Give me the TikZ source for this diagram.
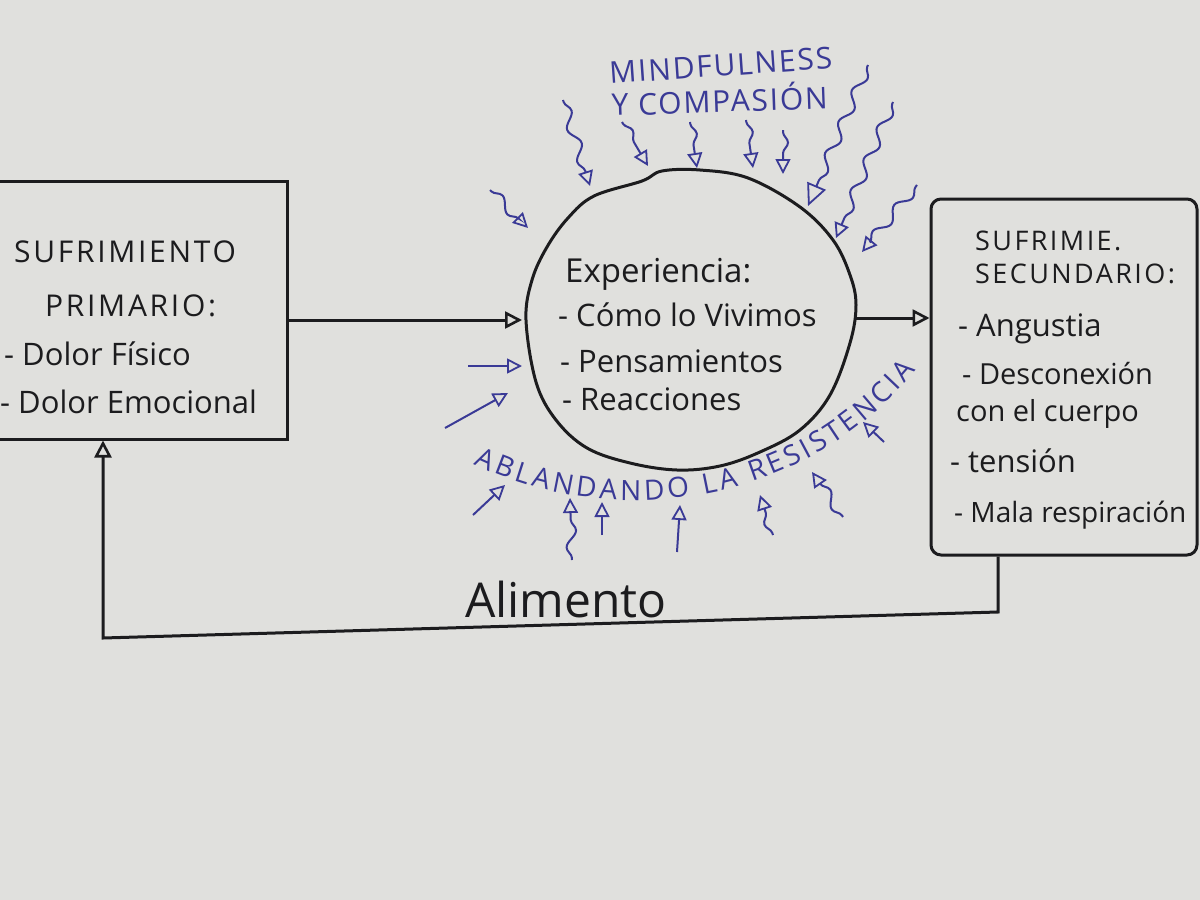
\documentclass[tikz,border=0pt]{standalone}
\usepackage{fontspec}
\setmainfont{Open Sans}
\usetikzlibrary{shapes.geometric,arrows.meta,decorations.pathmorphing,decorations.text}
\definecolor{paper}{RGB}{224,224,221}
\definecolor{ink}{RGB}{28,28,30}
\definecolor{pen}{RGB}{58,58,150}
\begin{document}
\begin{tikzpicture}[x=1pt,y=-1pt,
  box/.style={draw=ink, line width=3pt, inner sep=0pt},
  outline/.style={draw=ink, line width=3pt},
  conn/.style={draw=ink, line width=3pt, -{Triangle[open,length=17pt,width=17pt,line width=2.6pt]}},
  txt/.style={anchor=base west, text=ink, inner sep=0pt, font=\fontsize{#1}{#1}\selectfont},
  caps/.style={anchor=base west, text=ink, inner sep=0pt, font=\fontsize{#1}{#1}\selectfont\addfontfeature{LetterSpace=9}},
  ptxt/.style={anchor=base west, text=pen, inner sep=0pt, font=\fontsize{#1}{#1}\selectfont\addfontfeature{LetterSpace=6}},
  wavy/.style={draw=pen, line width=2pt, -{Triangle[open,length=15pt,width=15pt,line width=1.8pt]},
    decorate, decoration={snake, amplitude=5pt, segment length=34pt, pre length=2pt, post length=12pt}},
  flat/.style={draw=pen, line width=2pt, -{Triangle[open,length=15pt,width=15pt,line width=1.8pt]}}
]
\fill[paper] (0,0) rectangle (1200,900);
\useasboundingbox (0,0) rectangle (1200,900);

% boxes
\node[box, minimum width=300pt, minimum height=258pt] (prim) at (137,310) {};
\node[box, rounded corners=10pt, minimum width=266pt, minimum height=356pt] (sec) at (1064,377) {};
% experience circle (hand-drawn outline)
\node[ellipse, inner sep=0pt, minimum width=330pt, minimum height=300pt] (exp) at (690,320) {};
\draw[outline] plot[smooth cycle, tension=0.6] coordinates {
  (526,320) (532,280) (547,247) (568,218) (594,196) (642,181) (662,171)
  (700,170) (748,178) (800,207) (833,240) (850,275) (856,305) (850,343)
  (830,395) (800,430) (760,452) (720,466) (677,470) (630,463) (587,448)
  (556,420) (536,382)};
\coordinate (cl) at (522,320);
\coordinate (cr) at (856,318);

% left box text
\node[caps=30] (p1) at (14,262) {SUFRIMIENTO};
\node[caps=30] (p2) at (45,316) {PRIMARIO:};
\node[txt=31] (p3) at (4,365) {- Dolor Físico};
\node[txt=31] (p4) at (0,413) {- Dolor Emocional};

% circle text
\node[txt=33] (e1) at (565,282) {Experiencia:};
\node[txt=31] (e2) at (558,326) {- Cómo lo Vivimos};
\node[txt=31] (e3) at (560,372) {- Pensamientos};
\node[txt=31] (e4) at (562,410) {- Reacciones};

% right box text
\node[caps=27] (s1) at (975,250) {SUFRIMIE.};
\node[caps=27] (s2) at (975,283) {SECUNDARIO:};
\node[txt=31] (s3) at (958,336) {- Angustia};
\node[txt=29] (s4) at (962,384) {- Desconexión};
\node[txt=29] (s5) at (956,421) {con el cuerpo};
\node[txt=31] (s6) at (950,472) {- tensión};
\node[txt=28] (s7) at (954,522) {- Mala respiración};

% food label
\node[txt=48] (ali) at (465,617) {Alimento};

% blue labels
\node[ptxt=30, rotate=4] (m1) at (610,84) {MINDFULNESS};
\node[ptxt=30, rotate=2] (m2) at (612,116) {Y COMPASIÓN};
\path[decorate, decoration={text along path, text align={fit to path},
   text={|\fontsize{28}{28}\selectfont\color{pen}|ABLANDANDO LA RESISTENCIA}}]
  (474,464) .. controls (610,530) and (800,510) .. (916,370);

% black connectors
\draw[conn] (prim.east |- cl) -- (cl);
\draw[conn] (cr) -- (cr -| sec.west);
\coordinate (f1) at (998,612);
\coordinate (f2) at (103,638);
\draw[conn] (sec.south -| f1) -- (f1) -- (f2) -- (f2 |- prim.south);

% blue arrows (top)
\draw[wavy] (563,100) -- (590,186);
\draw[wavy] (622,122) -- (648,166);
\draw[wavy] (690,122) -- (697,168);
\draw[wavy] (746,120) -- (753,168);
\draw[wavy] (783,130) -- (783,174);
\draw[wavy, -{Triangle[open,length=22pt,width=20pt,line width=1.8pt]}] (868,65) -- (808,206);
\draw[wavy] (893,102) -- (836,238);
\draw[wavy] (917,185) -- (862,252);
\draw[wavy] (490,190) -- (528,228);
% left
\draw[flat] (468,366) -- (522,366);
\draw[flat] (445,428) -- (508,393);
% bottom
\draw[flat] (473,515) -- (505,485);
\draw[wavy] (572,560) -- (570,498);
\draw[wavy] (602,535) -- (602,502);
\draw[flat] (677,552) -- (680,505);
\draw[wavy] (773,535) -- (760,495);
\draw[wavy] (843,517) -- (812,472);
\draw[flat] (884,442) -- (863,422);
\end{tikzpicture}
\end{document}
